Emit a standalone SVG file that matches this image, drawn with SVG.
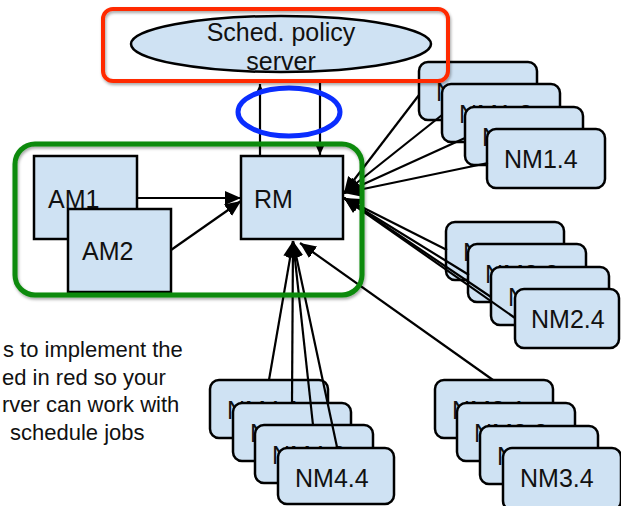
<svg xmlns="http://www.w3.org/2000/svg" width="621" height="506" viewBox="0 0 621 506">
<style>
.box{fill:#cfe2f3;stroke:#000;stroke-width:2.5}
.nm{fill:#cfe2f3;stroke:#000;stroke-width:2.5}
.lbl{font-family:"Liberation Sans",Arial,sans-serif;font-size:25px;fill:#111}
.cap{font-family:"Liberation Sans",Arial,sans-serif;font-size:22px;fill:#111}
.c{fill:none;stroke:#000;stroke-width:2.2}
.cs{fill:none;stroke:#000;stroke-width:2.2}
</style>
<defs>
<marker id="ah" markerUnits="userSpaceOnUse" markerWidth="18" markerHeight="16" refX="16" refY="8" orient="auto"><path d="M0,1 L16,8 L0,15 z" fill="#000"/></marker>
<marker id="as" markerUnits="userSpaceOnUse" markerWidth="10" markerHeight="10" refX="9" refY="4" orient="auto"><path d="M0,0 L9,4 L0,8 z" fill="#000"/></marker>
<filter id="sh" x="-10%" y="-10%" width="120%" height="130%"><feDropShadow dx="1" dy="2" stdDeviation="1.5" flood-color="#000" flood-opacity="0.35"/></filter>
</defs>

<g id="server">
<ellipse cx="281" cy="44" rx="150" ry="28" class="box" stroke-width="2"/>
<text class="lbl" x="281" y="41" text-anchor="middle">Sched. policy</text>
<text class="lbl" x="281" y="70" text-anchor="middle">server</text>
</g>

<g id="am1"><rect x="34" y="156" width="103" height="83" class="box"/><text class="lbl" x="48" y="208">AM1</text></g>
<g id="am2"><rect x="68" y="209" width="103" height="83" class="box"/><text class="lbl" x="82" y="260">AM2</text></g>
<g id="rm"><rect x="241" y="156" width="102" height="83" class="box"/><text class="lbl" x="254" y="208">RM</text></g>

<g id="nm1">
<g id="nm1-1"><rect x="419" y="62" width="118" height="58" rx="9" class="nm"/><text class="lbl" x="436" y="101">NM1.1</text></g>
<g id="nm1-2"><rect x="442" y="84" width="118" height="58" rx="9" class="nm"/><text class="lbl" x="459" y="123">NM1.2</text></g>
<g id="nm1-3"><rect x="465" y="107" width="118" height="58" rx="9" class="nm"/><text class="lbl" x="482" y="146">NM1.3</text></g>
<g id="nm1-4"><rect x="487" y="129" width="118" height="59" rx="9" class="nm"/><text class="lbl" x="504" y="168">NM1.4</text></g>
</g>

<g id="nm2">
<g id="nm2-1"><rect x="446" y="222" width="118" height="58" rx="9" class="nm"/><text class="lbl" x="463" y="261">NM2.1</text></g>
<g id="nm2-2"><rect x="468" y="244" width="118" height="58" rx="9" class="nm"/><text class="lbl" x="485" y="283">NM2.2</text></g>
<g id="nm2-3"><rect x="491" y="267" width="118" height="58" rx="9" class="nm"/><text class="lbl" x="508" y="306">NM2.3</text></g>
<g id="nm2-4"><rect x="515" y="289" width="104" height="59" rx="9" class="nm"/><text class="lbl" x="531" y="328">NM2.4</text></g>
</g>

<g id="nm4">
<g id="nm4-1"><rect x="210" y="380" width="118" height="58" rx="9" class="nm"/><text class="lbl" x="227" y="419">NM4.1</text></g>
<g id="nm4-2"><rect x="233" y="403" width="118" height="58" rx="9" class="nm"/><text class="lbl" x="250" y="442">NM4.2</text></g>
<g id="nm4-3"><rect x="255" y="425" width="118" height="58" rx="9" class="nm"/><text class="lbl" x="272" y="464">NM4.3</text></g>
<g id="nm4-4"><rect x="278" y="448" width="116" height="56" rx="9" class="nm"/><text class="lbl" x="295" y="487">NM4.4</text></g>
</g>

<g id="nm3">
<g id="nm3-1"><rect x="435" y="380" width="118" height="58" rx="9" class="nm"/><text class="lbl" x="452" y="419">NM3.1</text></g>
<g id="nm3-2"><rect x="457" y="403" width="118" height="58" rx="9" class="nm"/><text class="lbl" x="474" y="442">NM3.2</text></g>
<g id="nm3-3"><rect x="480" y="426" width="118" height="58" rx="9" class="nm"/><text class="lbl" x="497" y="465">NM3.3</text></g>
<g id="nm3-4"><rect x="503" y="448" width="118" height="62" rx="9" class="nm"/><text class="lbl" x="520" y="487">NM3.4</text></g>
</g>

<g id="connectors">
<path class="c" d="M137,198 L241,198" marker-end="url(#ah)"/>
<path class="c" d="M171,250 L241,201" marker-end="url(#ah)"/>
<path class="cs" d="M260,156 L260,84" marker-end="url(#as)"/>
<path class="cs" d="M320,82 L320,155" marker-end="url(#as)"/>
<path class="c" d="M419,95 L344,193" marker-end="url(#ah)"/>
<path class="c" d="M442,115 L344,193" marker-end="url(#ah)"/>
<path class="c" d="M465,138 L344,193" marker-end="url(#ah)"/>
<path class="c" d="M488,163 L344,193" marker-end="url(#ah)"/>
<path class="c" d="M447,250 L344,198" marker-end="url(#ah)"/>
<path class="c" d="M469,275 L344,198" marker-end="url(#ah)"/>
<path class="c" d="M491,297 L344,198" marker-end="url(#ah)"/>
<path class="c" d="M515,318 L344,198" marker-end="url(#ah)"/>
<path class="c" d="M269,380 L293,241" marker-end="url(#ah)"/>
<path class="c" d="M292,403 L293,241" marker-end="url(#ah)"/>
<path class="c" d="M313,425 L293,241" marker-end="url(#ah)"/>
<path class="c" d="M337,447 L293,241" marker-end="url(#ah)"/>
<path class="c" d="M493,380 L300,243" marker-end="url(#ah)"/>
</g>

<g id="highlight-green"><rect x="15" y="144" width="347" height="151" rx="20" fill="none" stroke="#0b8a0b" stroke-width="5" filter="url(#sh)"/></g>
<g id="highlight-blue"><ellipse cx="289" cy="112" rx="51" ry="24" fill="none" stroke="#0a2dff" stroke-width="5"/></g>
<g id="highlight-red"><rect x="103" y="9" width="345" height="72" rx="10" fill="none" stroke="#ff2a00" stroke-width="4" filter="url(#sh)"/></g>

<g id="caption">
<text class="cap" x="3" y="357">s to implement the</text>
<text class="cap" x="2" y="385">ed in red so your</text>
<text class="cap" x="2" y="412">rver can work with</text>
<text class="cap" x="10" y="440">schedule jobs</text>
</g>
</svg>
